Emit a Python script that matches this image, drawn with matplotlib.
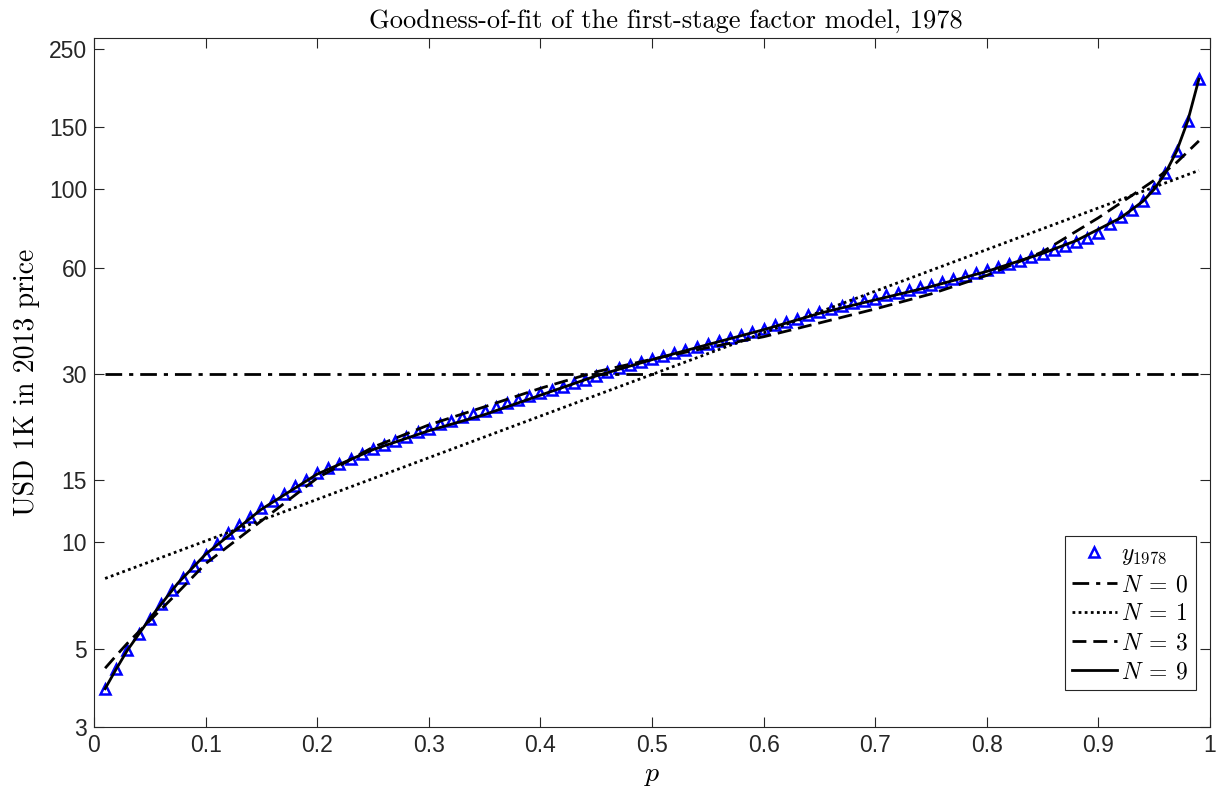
import numpy as np
import matplotlib
matplotlib.use('Agg')
import matplotlib.pyplot as plt
from matplotlib.ticker import FixedLocator, NullLocator

plt.rcParams['mathtext.fontset'] = 'cm'
plt.rcParams['font.family'] = 'Liberation Sans'
plt.rcParams['axes.unicode_minus'] = False

# empirical quantiles of the 1978 distribution (USD 1K, 2013 prices)
p_obs = np.round(np.arange(1, 100) / 100, 2)
y1978 = [3.85, 4.38, 4.95, 5.51, 6.08, 6.70, 7.34, 7.94, 8.59, 9.23,
         9.92, 10.6, 11.2, 11.8, 12.5, 13.1, 13.7, 14.4, 15.0, 15.7,
         16.2, 16.7, 17.2, 17.8, 18.4, 18.9, 19.4, 19.9, 20.5, 21.0,
         21.6, 22.1, 22.6, 23.1, 23.6, 24.2, 24.8, 25.3, 25.9, 26.5,
         27.0, 27.6, 28.2, 28.9, 29.6, 30.3, 31.1, 31.8, 32.5, 33.1,
         33.6, 34.3, 35.0, 35.7, 36.5, 37.2, 38.0, 38.7, 39.4, 40.3,
         41.2, 42.1, 43.0, 43.9, 44.8, 45.7, 46.6, 47.5, 48.3, 49.0,
         50.0, 50.9, 51.9, 52.7, 53.7, 54.6, 55.6, 56.6, 57.8, 59.0,
         60.2, 61.5, 62.8, 64.2, 65.7, 67.2, 68.9, 70.8, 72.9, 75.0,
         79.8, 83.2, 87.3, 92.8, 100.6, 111.4, 128.6, 156.0, 205.0]

# fitted quantile curves for N = 0, 1, 3, 9 factors
p_n0 = [0.01, 0.99]
fit_n0 = [30.0, 30.0]

p_n1 = [0.01, 0.99]
fit_n1 = [7.9, 113.0]

p_n3 = [0.01, 0.02, 0.03, 0.05, 0.075, 0.10, 0.15, 0.20, 0.25, 0.30,
        0.35, 0.40, 0.45, 0.50, 0.55, 0.60, 0.65, 0.70, 0.75, 0.80,
        0.85, 0.90, 0.93, 0.95, 0.97, 0.99]
fit_n3 = [4.40, 4.78, 5.18, 6.00, 7.20, 8.70, 11.5, 15.2, 18.6, 21.5,
          24.2, 27.3, 30.4, 33.0, 35.6, 38.2, 41.8, 45.8, 50.5, 57.0,
          66.5, 83.0, 96.0, 106.0, 119.0, 137.0]

p_n9 = [0.01, 0.02, 0.03, 0.05, 0.075, 0.10, 0.15, 0.20, 0.25, 0.30,
        0.35, 0.40, 0.45, 0.50, 0.55, 0.60, 0.65, 0.70, 0.75, 0.80,
        0.85, 0.88, 0.90, 0.92, 0.94, 0.95, 0.96, 0.97, 0.98, 0.99]
fit_n9 = [3.85, 4.38, 4.95, 6.08, 7.65, 9.25, 12.4, 15.6, 18.3, 20.7,
          23.0, 26.1, 29.6, 32.9, 36.3, 40.0, 44.5, 48.6, 53.0, 58.5,
          65.8, 71.5, 77.0, 83.0, 92.5, 100.0, 111.0, 128.0, 156.0, 205.0]

ytick_vals = [3, 5, 10, 15, 30, 60, 100, 150, 250]
xtick_vals = [0, 0.1, 0.2, 0.3, 0.4, 0.5, 0.6, 0.7, 0.8, 0.9, 1]

fig = plt.figure(figsize=(12.25, 8), dpi=100)
ax = fig.add_axes([0.0767, 0.0913, 0.9111, 0.8612])

lw = 2.0
ax.plot(p_obs, y1978, linestyle='none', marker='^', markersize=7.5,
        markerfacecolor='none', markeredgecolor='blue', markeredgewidth=1.8,
        label=r'$y_{1978}$', zorder=2)
ax.plot(p_n0, fit_n0, color='black', lw=lw, linestyle=(0, (6, 2.5, 1.5, 2.5)),
        label=r'$N\:=\:0$', zorder=3)
ax.plot(p_n1, fit_n1, color='black', lw=lw, linestyle=(0, (1, 1.2)),
        label=r'$N\:=\:1$', zorder=3)
ax.plot(p_n3, fit_n3, color='black', lw=lw, linestyle=(0, (5, 2.5)),
        label=r'$N\:=\:3$', zorder=3)
ax.plot(p_n9, fit_n9, color='black', lw=lw, linestyle='-',
        label=r'$N\:=\:9$', zorder=3)

ax.set_yscale('log')
ax.set_xlim(0, 1)
ax.set_ylim(3, 268)
ax.yaxis.set_major_locator(FixedLocator(ytick_vals))
ax.yaxis.set_minor_locator(NullLocator())
ax.set_yticklabels([str(v) for v in ytick_vals])
ax.set_xticks(xtick_vals)
ax.set_xticklabels(['0', '0.1', '0.2', '0.3', '0.4', '0.5', '0.6', '0.7',
                    '0.8', '0.9', '1'])

for s in ax.spines.values():
    s.set_color('#262626')
    s.set_linewidth(0.8)
ax.tick_params(which='both', direction='in', top=True, right=True,
               length=7, width=0.8, color='#262626', labelsize=16.5,
               labelcolor='#262626', pad=5)

ax.set_title('Goodness-of-fit of the first-stage factor model, 1978',
             fontfamily='cmr10', fontsize=19, pad=7, x=0.512)
ax.set_ylabel('USD 1K in 2013 price', fontfamily='cmr10', fontsize=20,
              labelpad=6)
ax.set_xlabel(r'$p$', fontsize=20, labelpad=4)

leg = ax.legend(loc='lower right', bbox_to_anchor=(0.9875, 0.053),
                fontsize=17, frameon=True, fancybox=False, framealpha=1,
                edgecolor='#262626', handlelength=1.9, handletextpad=0.2,
                borderpad=0.3, labelspacing=0.3, borderaxespad=0)
leg.get_frame().set_linewidth(0.8)

fig.savefig('out.png', dpi=100)
